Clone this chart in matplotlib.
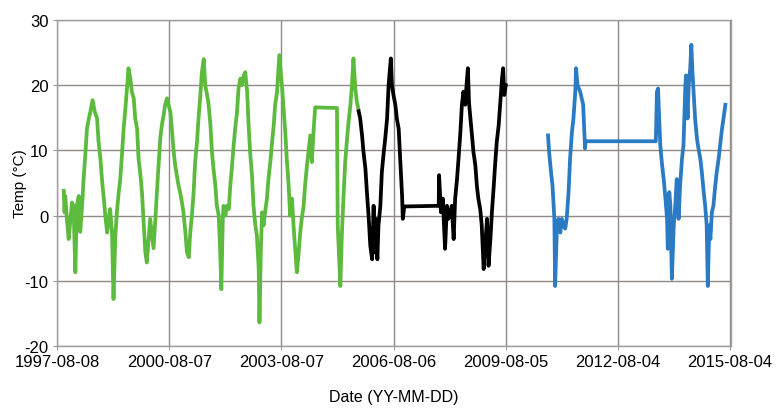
import numpy as np
import pandas as pd
import matplotlib
matplotlib.use("Agg")
import matplotlib.pyplot as plt

plt.rcParams["font.family"] = ["Liberation Sans", "DejaVu Sans"]
plt.rcParams["axes.unicode_minus"] = False

# sampling times as decimal years, temperatures in deg C
green_t = [1997.78, 1997.80, 1997.82, 1997.87, 1997.91, 1997.96, 1998.00, 1998.04,
           1998.09, 1998.13, 1998.18, 1998.22, 1998.27, 1998.31, 1998.36, 1998.40,
           1998.45, 1998.49, 1998.55, 1998.61, 1998.67, 1998.71, 1998.76, 1998.80,
           1998.85, 1998.89, 1998.94, 1998.98, 1999.02, 1999.07, 1999.11, 1999.16,
           1999.20, 1999.25, 1999.29, 1999.34, 1999.38, 1999.42, 1999.47, 1999.51,
           1999.56, 1999.60, 1999.65, 1999.69, 1999.74, 1999.78, 1999.83, 1999.87,
           1999.91, 1999.96, 2000.00, 2000.05, 2000.09, 2000.14, 2000.18, 2000.23,
           2000.27, 2000.32, 2000.36, 2000.40, 2000.45, 2000.49, 2000.54, 2000.58,
           2000.63, 2000.67, 2000.72, 2000.76, 2000.80, 2000.85, 2000.89, 2000.94,
           2000.98, 2001.03, 2001.07, 2001.12, 2001.16, 2001.21, 2001.25, 2001.29,
           2001.34, 2001.38, 2001.43, 2001.47, 2001.52, 2001.56, 2001.61, 2001.65,
           2001.70, 2001.74, 2001.78, 2001.83, 2001.87, 2001.92, 2001.96, 2001.99,
           2002.03, 2002.05, 2002.10, 2002.14, 2002.19, 2002.23, 2002.27, 2002.32,
           2002.36, 2002.41, 2002.45, 2002.50, 2002.54, 2002.59, 2002.63, 2002.68,
           2002.72, 2002.76, 2002.81, 2002.85, 2002.90, 2002.94, 2002.99, 2003.01,
           2003.05, 2003.08, 2003.12, 2003.16, 2003.21, 2003.25, 2003.30, 2003.34,
           2003.39, 2003.43, 2003.48, 2003.54, 2003.61, 2003.66, 2003.70, 2003.74,
           2003.79, 2003.83, 2003.88, 2003.92, 2003.97, 2004.01, 2004.06, 2004.10,
           2004.14, 2004.19, 2004.23, 2004.28, 2004.32, 2004.37, 2004.41, 2004.46,
           2004.50, 2005.08, 2005.10, 2005.17, 2005.21, 2005.26, 2005.30, 2005.35,
           2005.39, 2005.44, 2005.48, 2005.52, 2005.57, 2005.61, 2005.65]
green_temp = [3.8, 0.5, 3.0, -1.0, -3.6, -0.5, 2.0, 1.5,
              -8.7, 1.5, 3.0, -2.5, 1.5, 5.6, 9.7, 13.3,
              14.9, 15.9, 17.7, 15.9, 14.9, 11.3, 8.7, 5.6,
              2.6, 0.0, -2.6, -0.5, 1.0, -2.6, -12.8, -3.0,
              0.5, 3.6, 5.6, 9.7, 13.3, 15.9, 19.5, 22.6,
              21.0, 19.0, 18.0, 14.9, 13.3, 8.7, 6.2, 3.6,
              -0.5, -5.6, -7.2, -3.6, -0.5, -3.0, -5.0, -0.5,
              3.6, 8.2, 11.8, 13.8, 15.4, 17.0, 18.0, 17.0,
              15.9, 13.3, 9.7, 7.7, 6.2, 4.6, 3.6, 2.0,
              0.5, -2.6, -5.6, -6.4, -2.6, 0.5, 3.6, 8.2,
              11.3, 14.9, 18.5, 22.0, 24.0, 20.0, 18.5, 17.0,
              13.8, 9.7, 7.2, 4.6, 1.5, 0.0, -5.6, -11.3,
              -0.5, 1.5, 0.0, 1.5, 1.0, 4.6, 7.2, 10.8,
              13.3, 15.9, 19.5, 21.0, 20.0, 21.5, 22.0, 19.0,
              13.8, 9.7, 6.2, 1.5, -1.5, -3.0, -8.2, -16.4,
              -4.6, 0.5, -1.5, 0.5, 2.6, 5.6, 8.2, 10.8,
              13.8, 17.0, 19.0, 24.6, 20.0, 15.9, 12.8, 8.7,
              4.6, 0.0, 2.6, -1.5, -5.6, -8.7, -5.6, -2.6,
              -0.5, 1.5, 4.6, 7.7, 9.7, 12.3, 8.2, 13.3,
              16.6, 16.5, -1.5, -10.8, -3.0, 3.6, 8.2, 11.8,
              14.4, 17.0, 20.0, 24.1, 19.5, 17.5, 16.4]

black_t = [2005.66, 2005.70, 2005.75, 2005.79, 2005.84, 2005.88, 2005.93, 2005.97,
           2006.02, 2006.06, 2006.09, 2006.12, 2006.16, 2006.19, 2006.24, 2006.28,
           2006.33, 2006.37, 2006.42, 2006.46, 2006.52, 2006.55, 2006.59, 2006.64,
           2006.68, 2006.73, 2006.77, 2006.82, 2006.84, 2006.88, 2007.80, 2007.81,
           2007.86, 2007.91, 2007.95, 2007.97, 2008.02, 2008.06, 2008.11, 2008.15,
           2008.20, 2008.24, 2008.29, 2008.33, 2008.38, 2008.42, 2008.46, 2008.51,
           2008.55, 2008.58, 2008.61, 2008.64, 2008.69, 2008.73, 2008.78, 2008.82,
           2008.86, 2008.91, 2008.95, 2009.00, 2009.04, 2009.09, 2009.13, 2009.18,
           2009.22, 2009.27, 2009.31, 2009.35, 2009.40, 2009.44, 2009.49, 2009.52,
           2009.55, 2009.59]
black_temp = [16.0, 14.9, 12.3, 9.7, 7.2, 3.6, -0.5, -4.6,
              -6.7, 1.5, -5.6, -0.5, -6.7, -1.5, 1.5, 6.7,
              9.7, 11.8, 14.9, 20.0, 24.1, 20.0, 18.5, 17.0,
              14.9, 13.3, 8.7, 3.1, -0.5, 1.4, 1.5, 6.2,
              0.5, 2.6, -2.6, -5.1, 1.5, -0.5, 0.5, 1.5,
              -3.6, 2.6, 5.6, 8.7, 12.8, 17.0, 19.0, 17.0,
              20.5, 22.6, 17.4, 15.4, 12.3, 9.7, 7.7, 4.6,
              2.6, 1.0, -1.5, -8.2, -4.6, -0.5, -7.7, -3.6,
              0.5, 4.6, 8.2, 11.3, 13.8, 17.0, 21.0, 22.6,
              18.5, 20.0]

blue_t = [2010.72, 2010.75, 2010.80, 2010.84, 2010.89, 2010.91, 2010.96, 2011.00,
          2011.05, 2011.09, 2011.14, 2011.18, 2011.22, 2011.27, 2011.31, 2011.36,
          2011.40, 2011.45, 2011.47, 2011.51, 2011.58, 2011.66, 2011.71, 2011.72,
          2013.60, 2013.63, 2013.66, 2013.69, 2013.72, 2013.76, 2013.81, 2013.85,
          2013.90, 2013.92, 2013.96, 2013.99, 2014.03, 2014.08, 2014.12, 2014.16,
          2014.21, 2014.25, 2014.30, 2014.34, 2014.39, 2014.41, 2014.45, 2014.48,
          2014.52, 2014.55, 2014.58, 2014.62, 2014.65, 2014.70, 2014.74, 2014.79,
          2014.83, 2014.88, 2014.92, 2014.96, 2014.99, 2015.03, 2015.06, 2015.10,
          2015.14, 2015.19, 2015.23, 2015.28, 2015.32, 2015.37, 2015.41, 2015.46]
blue_temp = [12.3, 9.7, 6.7, 4.6, -0.5, -10.8, -1.5, -0.5,
             -2.6, -0.5, -1.5, -2.0, -0.5, 3.6, 8.7, 12.8,
             14.9, 19.0, 22.6, 20.0, 19.0, 17.0, 10.3, 11.4,
             11.4, 19.0, 19.5, 14.9, 10.8, 8.2, 5.6, 3.1,
             -0.5, -5.1, 3.6, 1.5, -9.7, -1.5, 1.5, 5.6,
             -0.5, 4.6, 8.7, 10.8, 20.0, 21.5, 14.9, 20.0,
             22.6, 26.2, 22.0, 18.0, 14.9, 11.8, 10.3, 8.7,
             6.7, 3.6, 1.5, -1.5, -10.8, -1.5, -3.6, 0.5,
             1.5, 4.6, 6.7, 8.7, 10.8, 13.3, 14.9, 17.0]

tick_labels = ["1997-08-08", "2000-08-07", "2003-08-07", "2006-08-06",
               "2009-08-05", "2012-08-04", "2015-08-04"]


def to_dates(years):
    out = []
    for y in years:
        start = pd.Timestamp(year=int(y), month=1, day=1)
        out.append(start + pd.Timedelta(days=(y - int(y)) * 365.25))
    return out


fig = plt.figure(figsize=(7.77, 4.10), dpi=100)
ax = fig.add_axes([0.0734, 0.1537, 0.8674, 0.7951])

ax.plot(to_dates(green_t), green_temp, color="#5cba3c", lw=2.7, solid_joinstyle="round")
ax.plot(to_dates(black_t), black_temp, color="black", lw=2.7, solid_joinstyle="round")
ax.plot(to_dates(blue_t), blue_temp, color="#2a7bc4", lw=2.7, solid_joinstyle="round")

ticks = pd.to_datetime(tick_labels)
ax.set_xticks(ticks)
ax.set_xticklabels(tick_labels)
ax.set_xlim(pd.Timestamp("1997-08-08"), pd.Timestamp("2015-08-12"))
ax.set_ylim(-20, 30)
ax.set_yticks(range(-20, 31, 10))

ax.grid(True, color="#8f8a88", lw=1.0)
ax.set_axisbelow(True)
for s in ax.spines.values():
    s.set_color("#a09c9a")
    s.set_linewidth(1.0)
ax.tick_params(axis="both", length=3, color="#a09c9a", labelsize=12, pad=3)

ax.set_ylabel("Temp (°C)", fontsize=11)
ax.yaxis.set_label_coords(-0.045, 0.5)
ax.set_xlabel("Date (YY-MM-DD)", fontsize=11.5)
ax.xaxis.set_label_coords(0.5, -0.133)

fig.savefig("out.png", dpi=100)
